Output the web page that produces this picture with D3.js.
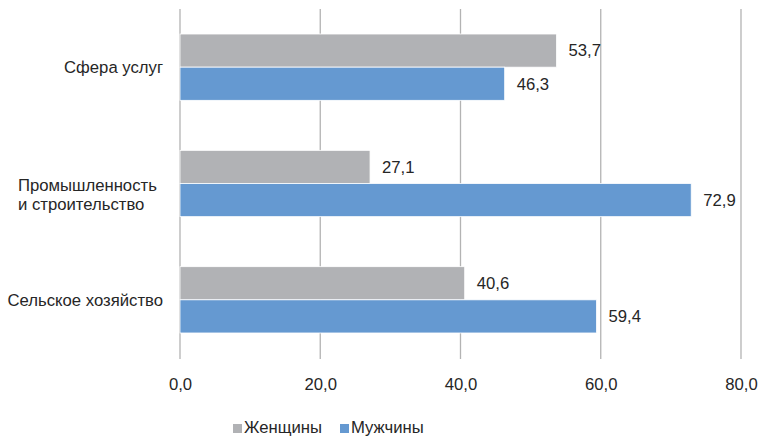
<!DOCTYPE html>
<html>
<head>
<meta charset="utf-8">
<script src="https://cdn.jsdelivr.net/npm/d3@7/dist/d3.min.js"></script>
<style>
  body { margin: 0; background: #fff; }
  svg { display: block; }
  text { font-family: "Liberation Sans", Arial, sans-serif; fill: #262626; }
</style>
</head>
<body>
<svg id="chart" width="760" height="436"></svg>
<script>
// Доля занятых по секторам экономики, %
const categories = [
  ["Сфера услуг"],
  ["Промышленность", "и строительство"],
  ["Сельское хозяйство"]
];
const women = [53.7, 27.1, 40.6];
const men = [46.3, 72.9, 59.4];
const seriesNames = ["Женщины", "Мужчины"];
const seriesColors = ["#b1b2b5", "#6599d1"];
const xTicks = [0, 20, 40, 60, 80];

const fmt = v => d3.format(".1f")(v).replace(".", ",");
const FS = 16.7;

const svg = d3.select("#chart");
const margin = { left: 180, right: 19, top: 9, bottom: 78 };
const W = 760, H = 436;

const x = d3.scaleLinear().domain([0, 80]).range([margin.left, 741]);
const y = d3.scaleBand().domain(d3.range(categories.length))
  .range([margin.top, H - margin.bottom]).paddingInner(0.43).paddingOuter(0.215);
const ySub = d3.scaleBand().domain([0, 1]).range([0, y.bandwidth()]);

// вертикальные линии сетки
svg.append("g")
  .selectAll("line").data(xTicks).join("line")
  .attr("x1", d => x(d)).attr("x2", d => x(d))
  .attr("y1", margin.top).attr("y2", H - margin.bottom + 1)
  .attr("stroke", "#b3b3b3").attr("stroke-width", 1.3);

// подписи оси X
const xAxis = d3.axisBottom(x).tickValues(xTicks).tickFormat(fmt).tickSize(0).tickPadding(0);
const gx = svg.append("g").attr("transform", `translate(0,${H - margin.bottom})`).call(xAxis);
gx.select(".domain").remove();
gx.selectAll("text").attr("font-size", FS).attr("dy", null).attr("y", 32)
  .style("font-family", "'Liberation Sans', Arial, sans-serif").style("fill", "#262626");

const series = [women, men];

// столбцы и подписи значений
series.forEach((vals, si) => {
  svg.append("g").selectAll("rect").data(vals).join("rect")
    .attr("x", x(0))
    .attr("y", (d, i) => y(i) + ySub(si))
    .attr("width", d => x(d) - x(0))
    .attr("height", ySub.bandwidth())
    .attr("fill", seriesColors[si])
    .attr("stroke", "#fff").attr("stroke-width", 0.8);

  svg.append("g").selectAll("text").data(vals).join("text")
    .attr("x", d => x(d) + 12)
    .attr("y", (d, i) => y(i) + ySub(si) + ySub.bandwidth() / 2)
    .attr("dy", "0.35em")
    .attr("font-size", FS)
    .text(fmt);
});

// подписи категорий
const labelRight = 163;
categories.forEach((lines, i) => {
  const cy = y(i) + y.bandwidth() / 2;
  const t = svg.append("text").attr("font-size", FS);
  const lineH = 19;
  const first = lines.length === 1 ? 0 : -lineH / 2 + 11;
  lines.forEach((ln, k) => {
    t.append("tspan").attr("x", 0).attr("y", cy + first + k * lineH).attr("dy", "0.35em").text(ln);
  });
  const w = t.node().getBBox().width;
  t.attr("transform", `translate(${lines.length === 1 ? labelRight - w : 18},0)`);
});

// легенда
const legend = svg.append("g");
const legX = [233, 340];
seriesNames.forEach((name, si) => {
  legend.append("rect").attr("x", legX[si]).attr("y", 424).attr("width", 9).attr("height", 9)
    .attr("fill", seriesColors[si]);
  legend.append("text").attr("x", legX[si] + 11).attr("y", 433).attr("font-size", FS).text(name);
});
</script>
</body>
</html>
